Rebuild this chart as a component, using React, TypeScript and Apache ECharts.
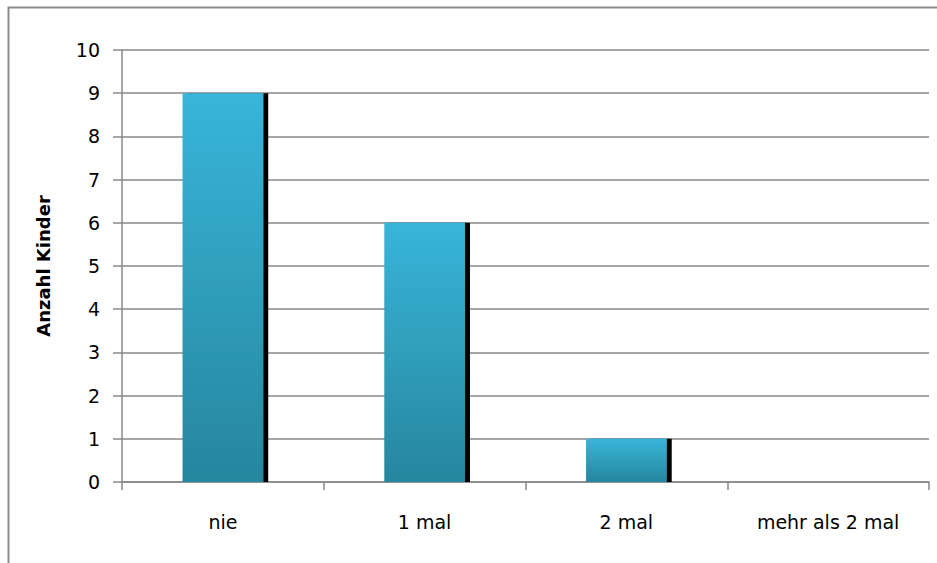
import React, { useEffect, useRef } from "react";
import * as echarts from "echarts";

const categories = ["nie", "1 mal", "2 mal", "mehr als 2 mal"];
const values = [9, 6, 1, 0];
const yTicks = { min: 0, max: 10, interval: 1 };
const yAxisTitle = "Anzahl Kinder";

export default function App() {
  const ref = useRef<HTMLDivElement>(null);
  useEffect(() => {
    const chart = echarts.init(ref.current!, null, { renderer: "svg" });
    const font = "'DejaVu Sans', 'Liberation Sans', sans-serif";
    chart.setOption({
      animation: false,
      backgroundColor: "#ffffff",
      graphic: [
        {
          type: "rect",
          shape: { x: 8.5, y: 7.5, width: 940, height: 600 },
          style: { fill: "none", stroke: "#8c8c8c", lineWidth: 2 },
          silent: true,
        },
      ],
      grid: { left: 122, right: 8, top: 50, bottom: 81 },
      xAxis: {
        type: "category",
        data: categories,
        axisLine: { show: true, lineStyle: { color: "#888888", width: 1.5 } },
        axisTick: { show: true, length: 8, alignWithLabel: false, lineStyle: { color: "#888888", width: 1.5 } },
        axisLabel: { margin: 30, fontSize: 19, color: "#000", fontFamily: font },
        splitLine: { show: false },
      },
      yAxis: {
        type: "value",
        min: yTicks.min,
        max: yTicks.max,
        interval: yTicks.interval,
        name: yAxisTitle,
        nameLocation: "middle",
        nameGap: 70,
        nameTextStyle: { fontSize: 18, fontWeight: "bold", color: "#000", fontFamily: font },
        axisLine: { show: true, lineStyle: { color: "#888888", width: 1.5 } },
        axisTick: { show: true, length: 9, lineStyle: { color: "#888888", width: 1.5 } },
        axisLabel: { margin: 22, fontSize: 19, color: "#000", fontFamily: font },
        splitLine: { show: true, lineStyle: { color: "#888888", width: 1.5 } },
      },
      series: [
        {
          type: "bar",
          data: values,
          barWidth: "40%",
          itemStyle: {
            color: new echarts.graphic.LinearGradient(0, 0, 0, 1, [
              { offset: 0, color: "#38b5d9" },
              { offset: 1, color: "#27869e" },
            ]),
            shadowColor: "#000000",
            shadowBlur: 0,
            shadowOffsetX: 5,
            shadowOffsetY: 0,
          },
        },
      ],
    });
    return () => chart.dispose();
  }, []);
  return (
    <div
      ref={ref}
      style={{ position: "absolute", left: 0, top: 0, width: 937, height: 563 }}
    />
  );
}
